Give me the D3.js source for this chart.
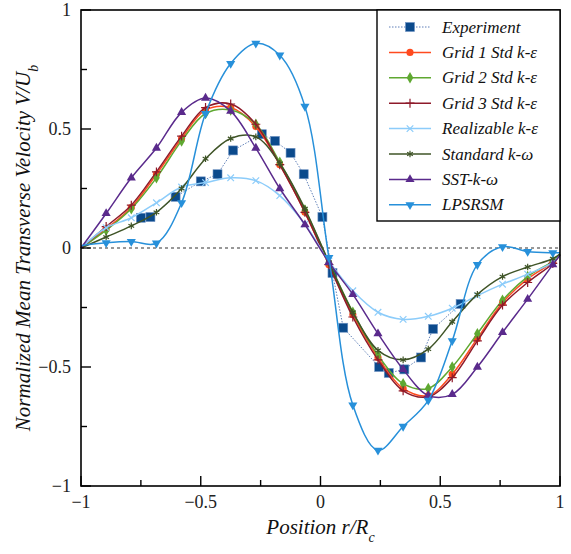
<!DOCTYPE html>
<html>
<head>
<meta charset="utf-8">
<script src="https://cdn.jsdelivr.net/npm/d3@7"></script>
<style>
  html, body { margin: 0; padding: 0; background: #fff; }
  svg { display: block; }
  #chart text { font-family: 'Liberation Serif' !important; }
</style>
</head>
<body>
<svg id="chart" width="571" height="554">
  <text id="xTitle" x="320.5" y="534" text-anchor="middle" font-size="21" fill="#111" style="font-family:'Liberation Serif';font-style:italic">Position r/R<tspan baseline-shift="sub" font-size="14">c</tspan></text>
  <text id="yTitle" transform="translate(30,248) rotate(-90)" text-anchor="middle" font-size="21" fill="#111" style="font-family:'Liberation Serif';font-style:italic">Normalized Mean Transverse Velocity V/U<tspan baseline-shift="sub" font-size="14">b</tspan></text>
</svg>
<script>
// Radial positions shared by the simulation profiles
const positions = [-1, -0.895, -0.79, -0.685, -0.58, -0.48, -0.375, -0.27, -0.17, -0.065,
                   0.035, 0.135, 0.24, 0.345, 0.45, 0.55, 0.655, 0.76, 0.865, 0.97, 1];

const grid1 = [0.0, 0.08, 0.17, 0.31, 0.46, 0.58, 0.59, 0.51, 0.35, 0.15,
               -0.07, -0.28, -0.46, -0.59, -0.62, -0.53, -0.38, -0.23, -0.13, -0.06, -0.03];
const grid2 = [0.0, 0.075, 0.165, 0.295, 0.45, 0.565, 0.58, 0.52, 0.36, 0.16,
               -0.06, -0.27, -0.45, -0.57, -0.59, -0.5, -0.36, -0.22, -0.12, -0.055, -0.025];
const grid3 = [0.0, 0.09, 0.18, 0.32, 0.47, 0.59, 0.605, 0.52, 0.35, 0.15,
               -0.07, -0.29, -0.47, -0.6, -0.625, -0.545, -0.39, -0.24, -0.145, -0.065, -0.03];
const realizable = [0.0, 0.085, 0.127, 0.19, 0.256, 0.275, 0.295, 0.283, 0.22, 0.1,
                    -0.055, -0.18, -0.27, -0.3, -0.287, -0.253, -0.2, -0.152, -0.11, -0.06, -0.03];
const standardKw = [0.0, 0.046, 0.093, 0.15, 0.25, 0.375, 0.46, 0.467, 0.355, 0.165,
                    -0.06, -0.27, -0.43, -0.47, -0.425, -0.31, -0.195, -0.12, -0.08, -0.045, -0.025];
const sstKw = [0.0, 0.145, 0.295, 0.42, 0.57, 0.63, 0.575, 0.42, 0.25, 0.098,
               -0.06, -0.195, -0.36, -0.51, -0.62, -0.615, -0.5, -0.355, -0.215, -0.07, -0.03];
const lpsrsm = [0.01, 0.022, 0.027, 0.02, 0.19, 0.565, 0.775, 0.86, 0.81, 0.595,
                -0.04, -0.66, -0.85, -0.75, -0.64, -0.39, -0.07, 0.005, -0.015, -0.02, -0.02];

// Measured profile
const expX = [-0.75, -0.71, -0.605, -0.5, -0.43, -0.365, -0.245, -0.19, -0.125, -0.07,
              0.008, 0.05, 0.095, 0.245, 0.285, 0.35, 0.42, 0.47, 0.585];
const expY = [0.127, 0.13, 0.215, 0.28, 0.31, 0.41, 0.478, 0.45, 0.4, 0.31,
              0.13, -0.105, -0.335, -0.5, -0.525, -0.51, -0.46, -0.34, -0.235];

const xTicks = [-1, -0.5, 0, 0.5, 1];
const yTicks = [-1, -0.5, 0, 0.5, 1];
const minorTicks = [-0.75, -0.25, 0.25, 0.75];

const labelFmt = v => (v < 0 ? "\u2212" : "") + String(Math.abs(v));
const serifStyle = "font-family:'Liberation Serif'";
const serifItalic = "font-family:'Liberation Serif';font-style:italic";

const svg = d3.select("#chart");
const plotLeft = 81, plotRight = 560, plotTop = 10, plotBottom = 486;

const x = d3.scaleLinear().domain([-1, 1]).range([plotLeft, plotRight]);
const y = d3.scaleLinear().domain([-1, 1]).range([plotBottom, plotTop]);

// zero reference line
svg.append("line")
  .attr("x1", x(-1)).attr("x2", x(1)).attr("y1", y(0)).attr("y2", y(0))
  .attr("stroke", "#333").attr("stroke-width", 1.2).attr("stroke-dasharray", "3,3");

const plot = svg.append("g");

// marker shapes
function markerPath(kind, size) {
  switch (kind) {
    case "circle": return d3.symbol(d3.symbolCircle, size)();
    case "diamond": return d3.symbol(d3.symbolDiamond, size)();
    case "square": return d3.symbol(d3.symbolSquare, size)();
    case "triUp": return d3.symbol(d3.symbolTriangle, size)();
    case "triDown": return d3.symbol(d3.symbolTriangle, size)();
    case "plus": return d3.symbol(d3.symbolPlus, size)();
    case "times": return d3.symbol(d3.symbolTimes, size)();
    case "asterisk": return d3.symbol(d3.symbolAsterisk, size)();
  }
}
const strokeMarkers = new Set(["plus", "times", "asterisk"]);

function drawMarker(g, kind, color, cx, cy, size) {
  const p = g.append("path")
    .attr("d", markerPath(kind, size))
    .attr("transform", `translate(${cx},${cy})` + (kind === "triDown" ? " rotate(180)" : ""));
  if (strokeMarkers.has(kind)) {
    p.attr("fill", "none").attr("stroke", color).attr("stroke-width", 1.2);
  } else {
    p.attr("fill", color).attr("stroke", "none");
  }
  return p;
}

const series = [
  { name: "Grid 1 Std k-\u03b5", values: grid1, color: "#ff4a1f", marker: "circle", size: 40 },
  { name: "Grid 2 Std k-\u03b5", values: grid2, color: "#5fa831", marker: "diamond", size: 38 },
  { name: "Grid 3 Std k-\u03b5", values: grid3, color: "#8e1a2a", marker: "plus", size: 28 },
  { name: "Realizable k-\u03b5", values: realizable, color: "#8cccfa", marker: "times", size: 30 },
  { name: "Standard k-\u03c9", values: standardKw, color: "#3f5427", marker: "asterisk", size: 30 },
  { name: "SST-k-\u03c9", values: sstKw, color: "#5a2a8c", marker: "triUp", size: 36 },
  { name: "LPSRSM", values: lpsrsm, color: "#2790da", marker: "triDown", size: 36 }
];

const smooth = d3.line()
  .x(d => x(d[0])).y(d => y(d[1]))
  .curve(d3.curveCatmullRom.alpha(0.5));

// experiment: dotted connector and square markers
const expPts = expX.map((v, i) => [v, expY[i]]);
const expColor = "#0b4a8c";
plot.append("path")
  .attr("d", d3.line().x(d => x(d[0])).y(d => y(d[1]))(expPts))
  .attr("fill", "none").attr("stroke", "#5f7fb8").attr("stroke-width", 1)
  .attr("stroke-dasharray", "1.5,1.5");
expPts.forEach(p => {
  plot.append("rect")
    .attr("x", x(p[0]) - 4.5).attr("y", y(p[1]) - 4.5)
    .attr("width", 9).attr("height", 9)
    .attr("fill", expColor).attr("stroke", "#6f93c4").attr("stroke-width", 0.6);
});

series.forEach(s => {
  const pts = positions.map((v, i) => [v, s.values[i]]);
  plot.append("path")
    .attr("d", smooth(pts))
    .attr("fill", "none").attr("stroke", s.color).attr("stroke-width", 1.5);
  const mg = plot.append("g");
  pts.forEach(p => {
    if (Math.abs(p[0]) >= 1) return;
    drawMarker(mg, s.marker, s.color, x(p[0]), y(p[1]), s.size);
  });
});

// frame
svg.append("rect")
  .attr("x", plotLeft).attr("y", plotTop).attr("width", plotRight - plotLeft).attr("height", plotBottom - plotTop)
  .attr("fill", "none").attr("stroke", "#000").attr("stroke-width", 1.6);

// inward ticks
const tickG = svg.append("g").attr("stroke", "#000").attr("stroke-width", 1.4);
xTicks.forEach(v => tickG.append("line").attr("x1", x(v)).attr("x2", x(v)).attr("y1", plotBottom).attr("y2", plotBottom - 10));
minorTicks.forEach(v => tickG.append("line").attr("x1", x(v)).attr("x2", x(v)).attr("y1", plotBottom).attr("y2", plotBottom - 6));
yTicks.forEach(v => tickG.append("line").attr("x1", plotLeft).attr("x2", plotLeft + 10).attr("y1", y(v)).attr("y2", y(v)));
minorTicks.forEach(v => tickG.append("line").attr("x1", plotLeft).attr("x2", plotLeft + 6).attr("y1", y(v)).attr("y2", y(v)));

// tick labels
svg.append("g").selectAll("text").data(xTicks).join("text")
  .attr("x", d => x(d)).attr("y", plotBottom + 22)
  .attr("text-anchor", "middle")
  .attr("font-size", 18).attr("fill", "#222")
  .attr("style", serifStyle)
  .text(labelFmt);
svg.append("g").selectAll("text").data(yTicks).join("text")
  .attr("x", plotLeft - 10).attr("y", d => y(d) + 6)
  .attr("text-anchor", "end")
  .attr("font-size", 18).attr("fill", "#222")
  .attr("style", serifStyle)
  .text(labelFmt);

// axis titles sit at the plot centre
svg.select("#xTitle").attr("x", x(0));
svg.select("#yTitle").attr("transform", `translate(30, ${(plotTop + plotBottom) / 2}) rotate(-90)`);

// legend
const legend = svg.append("g");
legend.append("rect")
  .attr("x", 377).attr("y", plotTop).attr("width", plotRight - 377).attr("height", 211)
  .attr("fill", "#fff").attr("stroke", "#000").attr("stroke-width", 1.4);

const legendItems = [{ name: "Experiment", color: expColor, marker: "square" }].concat(series);
legendItems.forEach((s, i) => {
  const cy = 27 + i * 25.4;
  const g = legend.append("g");
  if (s.marker === "square") {
    g.append("line").attr("x1", 389).attr("x2", 431).attr("y1", cy).attr("y2", cy)
      .attr("stroke", "#5f7fb8").attr("stroke-width", 1).attr("stroke-dasharray", "1.5,1.5");
    g.append("rect").attr("x", 410 - 4.5).attr("y", cy - 4.5).attr("width", 9).attr("height", 9)
      .attr("fill", expColor).attr("stroke", "#6f93c4").attr("stroke-width", 0.6);
  } else {
    g.append("line").attr("x1", 389).attr("x2", 431).attr("y1", cy).attr("y2", cy)
      .attr("stroke", s.color).attr("stroke-width", 1.5);
    drawMarker(g, s.marker, s.color, 410, cy, s.size);
  }
  g.append("text").attr("x", 442).attr("y", cy + 5.5)
    .attr("font-size", 17).attr("fill", "#111")
    .attr("style", serifItalic)
    .text(s.name);
});
</script>
</body>
</html>
